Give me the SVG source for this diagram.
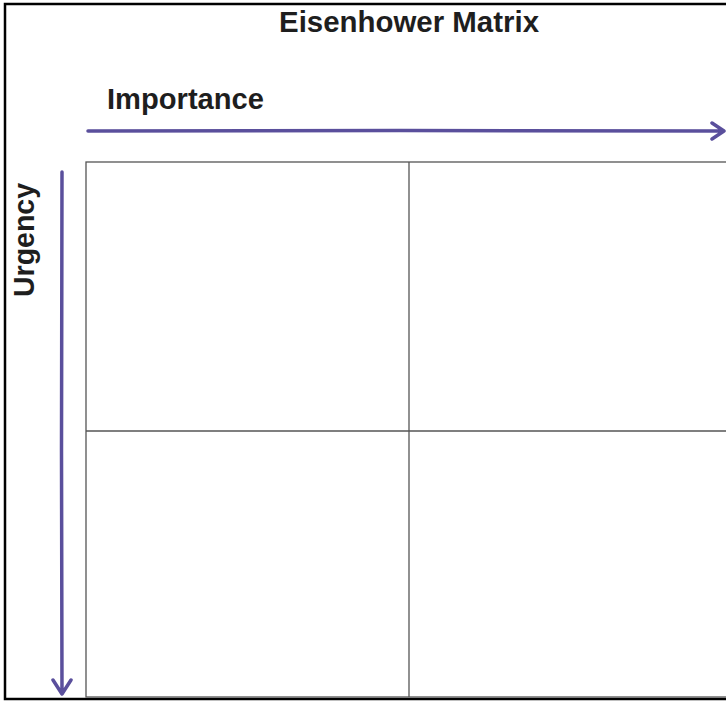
<svg xmlns="http://www.w3.org/2000/svg" width="726" height="702" viewBox="0 0 726 702">
<style>
.lbl{font-family:"Liberation Sans",Arial,sans-serif;font-weight:bold;fill:#1e1e1e}
.grid{fill:none;stroke:#555;stroke-width:1.3}
.arr{fill:none;stroke:#5a4f9c;stroke-width:3.5;stroke-linecap:round;stroke-linejoin:round}
</style>
<rect x="0" y="0" width="726" height="702" fill="#fff"/>
<rect x="5" y="4" width="740" height="695" fill="none" stroke="#000" stroke-width="2.5"/>
<g id="title"><text class="lbl" x="279" y="32" font-size="29" textLength="260" lengthAdjust="spacingAndGlyphs">Eisenhower Matrix</text></g>
<g id="grid">
<rect class="grid" x="86" y="162" width="660" height="535"/>
<line class="grid" x1="409" y1="162" x2="409" y2="697"/>
<line class="grid" x1="86" y1="431" x2="726" y2="431"/>
</g>
<g id="importance-label"><text class="lbl" x="107" y="109" font-size="29" textLength="157" lengthAdjust="spacingAndGlyphs">Importance</text></g>
<g id="urgency-label"><text class="lbl" transform="translate(34,297) rotate(-90)" font-size="29" textLength="114" lengthAdjust="spacingAndGlyphs">Urgency</text></g>
<g id="connectors">
<path class="arr" d="M88 131 L400 130.5 L724 131 M712 123 L724 131 L712 139"/>
<path class="arr" d="M62 172 L61.5 450 L62 694 M53 680 L62 694 L71 680"/>
</g>
</svg>
